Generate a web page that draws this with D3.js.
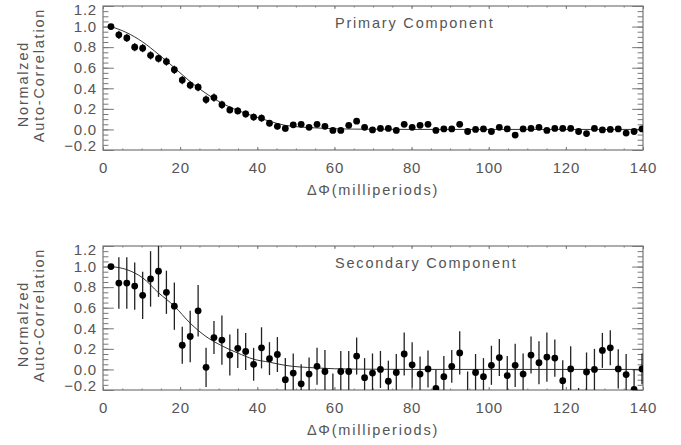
<!DOCTYPE html>
<html>
<head>
<meta charset="utf-8">
<script src="https://cdn.jsdelivr.net/npm/d3@7"></script>
<style>
  body { margin: 0; background: #fff; }
  svg { display: block; }
  text { font-family: "Liberation Sans", Arial, sans-serif; fill: #555; }
  .tick text { font-size: 15px; letter-spacing: 0.8px; }
  .lbl { font-size: 14.5px; letter-spacing: 1.8px; }
</style>
</head>
<body>
<div id="chart"></div>
<script>
// lag in milliperiods, same for both panels
var lags = [2.06, 4.11, 6.17, 8.22, 10.28, 12.33, 14.39, 16.44, 18.50, 20.55,
  22.61, 24.66, 26.72, 28.77, 30.83, 32.88, 34.94, 36.99, 39.05, 41.10,
  43.16, 45.21, 47.27, 49.32, 51.38, 53.43, 55.49, 57.54, 59.60, 61.65,
  63.71, 65.76, 67.82, 69.87, 71.93, 73.98, 76.04, 78.09, 80.15, 82.20,
  84.26, 86.31, 88.37, 90.42, 92.48, 94.53, 96.59, 98.64, 100.70, 102.75,
  104.81, 106.86, 108.92, 110.97, 113.03, 115.08, 117.14, 119.19, 121.25, 123.30,
  125.36, 127.41, 129.47, 131.52, 133.58, 135.63, 137.69, 139.74];

var primaryAC = [1.00, 0.92, 0.89, 0.80, 0.79, 0.72, 0.69, 0.66, 0.58, 0.48,
  0.43, 0.41, 0.29, 0.31, 0.24, 0.19, 0.18, 0.15, 0.12, 0.11,
  0.06, 0.03, 0.01, 0.045, 0.05, 0.02, 0.05, 0.03, -0.01, -0.01,
  0.04, 0.08, 0.02, -0.005, 0.01, 0.01, -0.01, 0.05, 0.02, 0.04,
  0.05, -0.01, 0.005, 0.005, 0.05, -0.02, 0.00, 0.005, -0.02, 0.02,
  0.005, -0.055, 0.005, 0.01, 0.02, -0.01, 0.01, 0.01, 0.01, -0.02,
  -0.04, 0.01, -0.005, 0.00, 0.005, -0.035, -0.02, 0.005];
var primaryErr = [0.01, 0.04, 0.04, 0.04, 0.04, 0.04, 0.04, 0.04, 0.04, 0.04,
  0.04, 0.04, 0.04, 0.04, 0.04, 0.035, 0.035, 0.035, 0.035, 0.035,
  0.03, 0.03, 0.03, 0.025, 0.025, 0.025, 0.025, 0.025, 0.025, 0.025,
  0.025, 0.025, 0.025, 0.025, 0.025, 0.025, 0.025, 0.025, 0.025, 0.025,
  0.025, 0.025, 0.025, 0.025, 0.025, 0.025, 0.025, 0.025, 0.025, 0.025,
  0.025, 0.025, 0.025, 0.025, 0.025, 0.025, 0.025, 0.025, 0.025, 0.025,
  0.025, 0.025, 0.025, 0.025, 0.025, 0.025, 0.025, 0.025];

var secondaryAC = [1.00, 0.84, 0.84, 0.81, 0.72, 0.88, 0.955, 0.75, 0.615, 0.235,
  0.32, 0.57, 0.02, 0.31, 0.285, 0.14, 0.205, 0.175, 0.05, 0.21,
  0.105, 0.145, -0.10, -0.035, -0.14, -0.045, 0.03, -0.02, -0.24, -0.02,
  -0.02, 0.13, -0.08, -0.035, 0.0, -0.115, -0.03, 0.15, 0.045, -0.045,
  0.005, -0.185, -0.07, 0.03, 0.16, -0.24, -0.03, -0.07, 0.04, 0.115,
  -0.06, 0.04, -0.045, 0.14, 0.065, 0.12, 0.11, -0.11, 0.005, -0.32,
  -0.025, 0.0, 0.185, 0.21, 0.005, -0.05, -0.195, 0.005];
var secondaryErr = [0, 0.25, 0.25, 0.23, 0.23, 0.27, 0.25, 0.21, 0.23, 0.18,
  0.25, 0.25, 0.19, 0.16, 0.24, 0.2, 0.19, 0.18, 0.16, 0.2,
  0.16, 0.17, 0.21, 0.19, 0.19, 0.16, 0.18, 0.21, 0.2, 0.2,
  0.2, 0.18, 0.19, 0.19, 0.18, 0.2, 0.18, 0.21, 0.22, 0.17,
  0.18, 0.18, 0.2, 0.16, 0.21, 0.22, 0.18, 0.18, 0.19, 0.18,
  0.19, 0.21, 0.2, 0.18, 0.21, 0.24, 0.18, 0.2, 0.22, 0.14,
  0.19, 0.2, 0.17, 0.17, 0.19, 0.2, 0.2, 0.15];

// fitted curves
var fitLags = [2.06, 6.2, 10.3, 14.4, 18.5, 22.6, 26.7, 30.8, 34.9, 39.0, 43.2, 47.2, 55, 65, 80, 140];
var primaryFit = [1.0, 0.94, 0.85, 0.73, 0.60, 0.465, 0.35, 0.255, 0.185, 0.13, 0.08, 0.04, 0.015, 0.003, 0.0, 0.0];
var secondaryFit = [1.0, 0.97, 0.89, 0.745, 0.615, 0.45, 0.32, 0.23, 0.16, 0.10, 0.07, 0.04, 0.015, 0.003, 0.0, 0.0];

var xTicks = [0, 20, 40, 60, 80, 100, 120, 140];
var yTicks = [-0.2, 0.0, 0.2, 0.4, 0.6, 0.8, 1.0, 1.2];

var W = 681, H = 445;
var svg = d3.select("#chart").append("svg")
    .attr("width", W)
    .attr("height", H);

var left = 103, right = 643, ph = 144;

var x = d3.scaleLinear().domain([0, 140]).range([left, right]);

function drawPanel(top, title, vals, errs, fit, id) {
  var y = d3.scaleLinear().domain([-0.2, 1.2]).range([top + ph, top]);
  var g = svg.append("g");

  // clip for marks
  svg.append("clipPath").attr("id", id)
    .append("rect").attr("x", left).attr("y", top).attr("width", right - left).attr("height", ph);

  var minorX = d3.range(0, 141, 5);
  var minorY = d3.range(-0.2, 1.2001, 0.05);

  // ticks, all inward (IDL style)
  g.append("g").attr("transform", "translate(0," + (top + ph) + ")")
      .call(d3.axisBottom(x).tickValues(xTicks).tickSize(-3).tickPadding(12).tickFormat(d3.format("d")))
      .call(function(a) { a.select(".domain").remove(); a.selectAll("text").attr("dy", "0.71em"); });
  g.append("g").attr("transform", "translate(0," + (top + ph) + ")")
      .call(d3.axisBottom(x).tickValues(minorX).tickSize(-1.5).tickFormat(""))
      .call(function(a) { a.select(".domain").remove(); });
  g.append("g").attr("transform", "translate(0," + top + ")")
      .call(d3.axisTop(x).tickValues(xTicks).tickSize(-3).tickFormat(""))
      .call(function(a) { a.select(".domain").remove(); });
  g.append("g").attr("transform", "translate(0," + top + ")")
      .call(d3.axisTop(x).tickValues(minorX).tickSize(-1.5).tickFormat(""))
      .call(function(a) { a.select(".domain").remove(); });

  var yl = g.append("g").attr("transform", "translate(" + left + ",0)")
      .call(d3.axisLeft(y).tickValues(yTicks).tickSize(-10.8).tickPadding(6).tickFormat(d3.format(".1f")))
      .call(function(a) { a.select(".domain").remove(); });
  // end labels sit inside the frame like in the original
  yl.selectAll(".tick text").attr("dy", function(d) {
    if (d > 1.1) return "0.58em";
    if (d < -0.1) return "0.02em";
    return "0.32em";
  }).text(function(d) { return d3.format(".1f")(d).replace("-", "\u2212"); });
  g.append("g").attr("transform", "translate(" + left + ",0)")
      .call(d3.axisLeft(y).tickValues(minorY).tickSize(-5.4).tickFormat(""))
      .call(function(a) { a.select(".domain").remove(); });
  g.append("g").attr("transform", "translate(" + right + ",0)")
      .call(d3.axisRight(y).tickValues(yTicks).tickSize(-10.8).tickFormat(""))
      .call(function(a) { a.select(".domain").remove(); });
  g.append("g").attr("transform", "translate(" + right + ",0)")
      .call(d3.axisRight(y).tickValues(minorY).tickSize(-5.4).tickFormat(""))
      .call(function(a) { a.select(".domain").remove(); });

  g.selectAll(".tick line").attr("stroke", "#777");

  // frame
  g.append("rect")
      .attr("x", left).attr("y", top)
      .attr("width", right - left).attr("height", ph)
      .attr("fill", "none").attr("stroke", "#777").attr("stroke-width", 1.2);

  var m = svg.append("g").attr("clip-path", "url(#" + id + ")");

  // fit line
  var line = d3.line()
      .x(function(d, i) { return x(fitLags[i]); })
      .y(function(d) { return y(d); })
      .curve(d3.curveMonotoneX);
  m.append("path").datum(fit)
      .attr("d", line)
      .attr("fill", "none").attr("stroke", "#333").attr("stroke-width", 1);

  // error bars
  m.selectAll(".err").data(vals).enter().append("line")
      .attr("class", "err")
      .attr("x1", function(d, i) { return x(lags[i]); })
      .attr("x2", function(d, i) { return x(lags[i]); })
      .attr("y1", function(d, i) { return y(d - errs[i]); })
      .attr("y2", function(d, i) { return y(d + errs[i]); })
      .attr("stroke", "#222").attr("stroke-width", 1.3);

  // points
  m.selectAll(".pt").data(vals).enter().append("circle")
      .attr("class", "pt")
      .attr("cx", function(d, i) { return x(lags[i]); })
      .attr("cy", function(d) { return y(d); })
      .attr("r", 3.4)
      .attr("fill", "#000");

  // labels
  svg.append("text").attr("class", "lbl")
      .attr("x", 335).attr("y", top + 22)
      .text(title);

  svg.append("text").attr("class", "lbl")
      .attr("x", (left + right) / 2).attr("y", top + ph + 45)
      .attr("text-anchor", "middle")
      .text("\u0394\u03A6(milliperiods)");

  svg.append("text").attr("class", "lbl")
      .attr("transform", "translate(28," + (top + ph / 2 + 6) + ") rotate(-90)")
      .attr("text-anchor", "middle")
      .text("Normalzed");
  svg.append("text").attr("class", "lbl")
      .attr("transform", "translate(44," + (top + ph / 2 - 3) + ") rotate(-90)")
      .attr("text-anchor", "middle")
      .text("Auto-Correlation");
}

drawPanel(6, "Primary Component", primaryAC, primaryErr, primaryFit, "clipP");
drawPanel(246, "Secondary Component", secondaryAC, secondaryErr, secondaryFit, "clipS");
</script>
</body>
</html>
